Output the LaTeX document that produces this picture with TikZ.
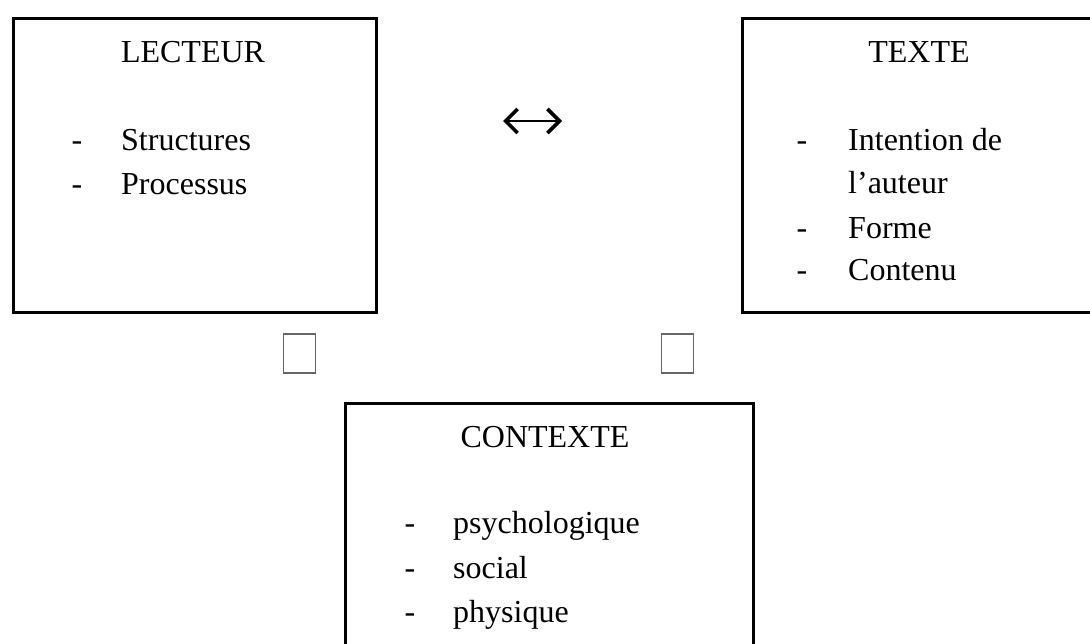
\documentclass[tikz,border=0pt]{standalone}
\usepackage{fontspec}
\setmainfont{Liberation Serif}
\usetikzlibrary{arrows.meta}
\definecolor{sqgray}{HTML}{666666}
\begin{document}
\begin{tikzpicture}[x=1pt,y=-1pt,
  bigbox/.style={draw=black, line width=3pt, inner sep=0pt, anchor=north west},
  smallsq/.style={draw=sqgray, line width=1.5pt, inner sep=0pt, minimum width=32pt, minimum height=39pt},
  txt/.style={inner sep=0pt, font=\fontsize{32}{38}\selectfont},
  title/.style={txt, anchor=base},
  item/.style={txt, anchor=base west},
  bullet/.style={txt, anchor=base},
  glypharrow/.style={line width=2.2pt,
    {Straight Barb[length=12pt,width=24pt,line width=3.6pt]}-{Straight Barb[length=12pt,width=24pt,line width=3.6pt]}}
]
\useasboundingbox (0,0) rectangle (1090,643);

% boxes
\node[bigbox, minimum width=363.5pt, minimum height=294pt] (lecteur) at (11.5,16.5) {};
\node[bigbox, minimum width=360pt, minimum height=294pt] (texte) at (741,16.5) {};
\node[bigbox, minimum width=408.3pt, minimum height=270pt] (contexte) at (343.7,401.5) {};

% small squares
\node[smallsq] (sq1) at (299.5,353.5) {};
\node[smallsq] (sq2) at (677.5,353.5) {};

% double arrow glyph
\coordinate (al) at (503,121);
\coordinate (ar) at (562,121);
\draw[glypharrow] (al) -- (ar);

% LECTEUR
\node[title] (t1) at (193,62) {LECTEUR};
\node[bullet] (d11) at (77,150) {-};
\node[item] (i11) at (121,150) {Structures};
\node[bullet] (d12) at (77,194.5) {-};
\node[item] (i12) at (121,194.5) {Processus};

% TEXTE
\node[title] (t2) at (919,62) {TEXTE};
\node[bullet] (d21) at (802,150) {-};
\node[item] (i21) at (848,150) {Intention de};
\node[item] (i22) at (848,193) {l’auteur};
\node[bullet] (d23) at (802,238) {-};
\node[item] (i23) at (848,238) {Forme};
\node[bullet] (d24) at (802,280) {-};
\node[item] (i24) at (848,280) {Contenu};

% CONTEXTE
\node[title] (t3) at (545,447) {CONTEXTE};
\node[bullet] (d31) at (410,533) {-};
\node[item] (i31) at (453,533) {psychologique};
\node[bullet] (d32) at (410,578) {-};
\node[item] (i32) at (453,578) {social};
\node[bullet] (d33) at (410,622) {-};
\node[item] (i33) at (453,622) {physique};
\end{tikzpicture}
\end{document}
